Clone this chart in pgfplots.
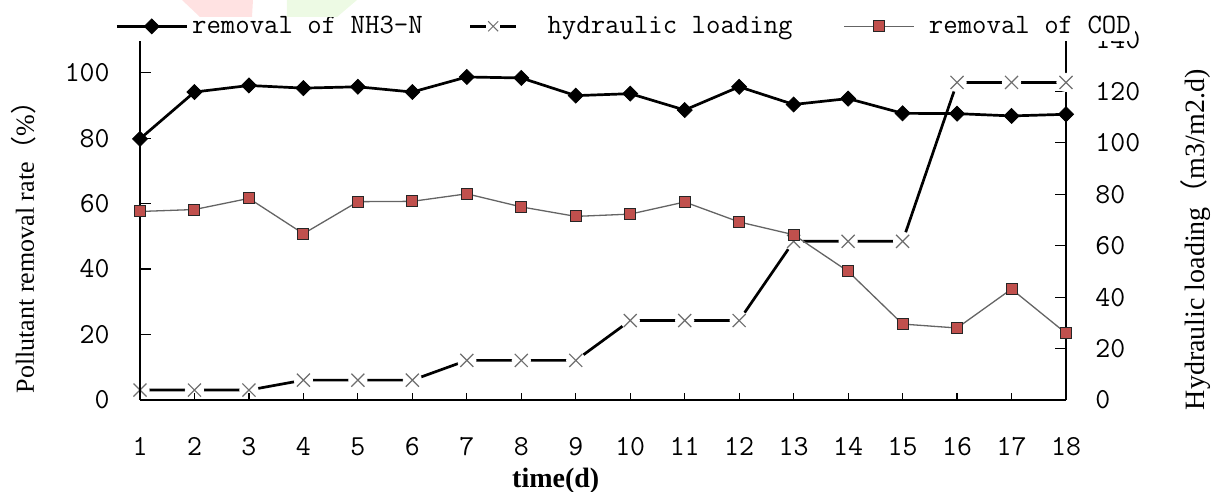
\documentclass[border=0pt]{standalone}
\usepackage{fontspec}
\setmainfont{Liberation Serif}
\newfontfamily\cjk{Noto Sans CJK SC}
\usepackage{pgfplots}
\usepackage{pgfplotstable}
\pgfplotsset{compat=1.18}
\definecolor{codred}{RGB}{192,80,77}
\definecolor{xgray}{RGB}{110,110,110}
\definecolor{codline}{RGB}{100,100,100}
\definecolor{wmpink}{RGB}{255,226,226}
\definecolor{wmgreen}{RGB}{237,250,228}

\pgfplotstableread{
t nh cod
1 79.8 57.6
2 94.1 58.2
3 96.1 61.6
4 95.3 50.8
5 95.7 60.6
6 94.1 60.7
7 98.7 63.0
8 98.4 59.0
9 93.0 56.1
10 93.6 56.8
11 88.6 60.5
12 95.7 54.4
13 90.3 50.5
14 92.1 39.3
15 87.6 23.2
16 87.5 22.0
17 86.8 33.9
18 87.3 20.4
}\removal

\pgfplotstableread{
t hl
1 3.86
2 3.86
3 3.86
4 7.72
5 7.72
6 7.72
7 15.4
8 15.4
9 15.4
10 30.9
11 30.9
12 30.9
13 61.7
14 61.7
15 61.7
16 123.5
17 123.5
18 123.5
}\hydro

\pgfplotsset{
  common/.style={
    scale only axis, width=463pt, height=180pt,
    at={(0pt,0pt)}, anchor=south west,
    xmin=1, xmax=18, clip=false,
    axis line style={-, line width=0.6pt, black},
    major tick style={line width=0.6pt, black},
    tick align=inside,
    /pgf/number format/assume math mode=true,
    ticklabel style={font=\ttfamily\fontsize{14.5}{16}\selectfont},
  },
  mylegend/.style={legend image code/.code={%
    \draw[mark repeat=2,mark phase=2,##1] plot coordinates {(0pt,0pt)(17.5pt,0pt)(35pt,0pt)};}},
  hydrolegend/.style={legend image code/.code={%
    \draw[black,line width=1.35pt] (0pt,0pt)--(8pt,0pt) (15pt,0pt)--(23pt,0pt);
    \draw[xgray,line width=0.5pt] (9pt,-2.5pt)--(14pt,2.5pt) (9pt,2.5pt)--(14pt,-2.5pt);}},
}

\begin{document}
\begin{tikzpicture}
% right axis: hydraulic loading
\begin{axis}[common,
  ymin=0, ymax=140,
  axis y line*=right, axis x line=none,
  ytick={0,20,...,140},
  major tick length=5.5pt,
  yticklabel style={anchor=west, inner sep=0pt, xshift=14.5pt},
  ylabel={Hydraulic loading{\cjk （}m3/m2.d)},
  ylabel style={at={(axis description cs:1.1404,0.445)}, anchor=center, font=\fontsize{14}{15}\selectfont},
]
\addplot[black, line width=1.35pt, mark=none] table[x=t,y=hl]{\hydro};
\addplot[white, only marks, mark=*, mark size=4.6pt, mark options={fill=white, draw=white}] table[x=t,y=hl]{\hydro};
\addplot[xgray, only marks, mark=x, mark size=4.6pt, mark options={draw=xgray, line width=0.6pt}] table[x=t,y=hl]{\hydro};
\end{axis}

% x axis
\begin{axis}[common,
  ymin=0, ymax=1,
  axis x line*=bottom, axis y line=none,
  xtick={1,...,18},
  major tick length=3.5pt,
  xticklabel style={anchor=north, inner sep=0pt, yshift=-18.5pt},
  xlabel={time(d)},
  xlabel style={at={(axis description cs:0.449,-0.225)}, anchor=center, font=\bfseries\fontsize{14}{16}\selectfont},
]
\addplot[draw=none, forget plot] coordinates {(1,0) (18,0)};
\end{axis}

% left axis: removal rates
\begin{axis}[common,
  ymin=0, ymax=110,
  axis y line*=left, axis x line=none,
  ytick={0,20,...,100},
  major tick length=5.5pt,
  yticklabel style={anchor=east, inner sep=0pt, xshift=-15pt},
  ylabel={Pollutant removal rate{\cjk （}\%{\cjk ）}},
  ylabel style={at={(axis description cs:-0.1253,0.442)}, anchor=center, font=\fontsize{13}{15}\selectfont},
  mylegend,
  legend columns=3,
  legend style={at={(axis description cs:-0.027,1.038)}, anchor=west,
    draw=none, fill=white, font=\ttfamily\fontsize{14}{16}\selectfont,
    inner ysep=0pt, inner xsep=0pt, nodes={inner xsep=2pt},
    /tikz/column 2/.style={column sep=21pt},
    /tikz/column 3/.style={column sep=13pt},
    /tikz/column 4/.style={column sep=23.5pt},
    /tikz/column 5/.style={column sep=5pt}},
]
\addplot[black, line width=1.35pt, mark=square*, mark size=2.65pt,
  mark options={rotate=45, solid, fill=black, line width=0.4pt}] table[x=t,y=nh]{\removal};
\addlegendentry{removal of NH3-N}
\addlegendimage{hydrolegend}
\addlegendentry{hydraulic loading}
\addplot[codline, line width=0.65pt, mark=square*, mark size=2.75pt,
  mark options={fill=codred, draw=black!85, line width=0.5pt}] table[x=t,y=cod]{\removal};
\addlegendentry{removal of COD}
\end{axis}

% faint watermark at the top
\fill[wmpink] (21pt,200pt) -- (56.5pt,200pt) -- (56pt,191.5pt) -- (30pt,191.5pt) -- cycle;
\fill[wmgreen] (73.5pt,200pt) -- (108.5pt,200pt) -- (98.5pt,191.5pt) -- (73.5pt,191.5pt) -- cycle;

\pgfresetboundingbox
\useasboundingbox (-70pt,-46pt) rectangle (538.5pt,200pt);
\end{tikzpicture}
\end{document}
